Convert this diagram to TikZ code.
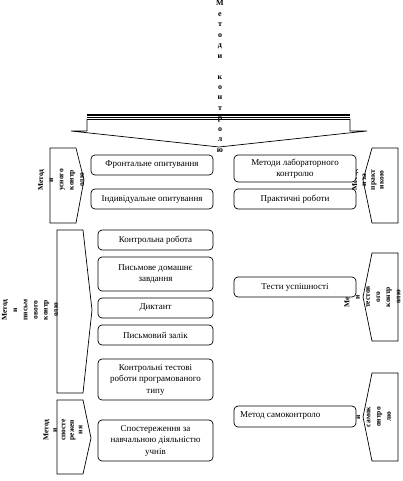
\documentclass[tikz,border=0pt]{standalone}
\usepackage{fontspec}
\setmainfont{Liberation Serif}
\begin{document}
\begin{tikzpicture}[x=1pt,y=-1pt,
  box/.style={draw, rounded corners=4pt, fill=white, line width=0.7pt, align=center,
    font=\fontsize{9}{11.5}\selectfont, inner sep=1pt},
  chev/.style={draw, line width=0.7pt, fill=white},
  vtext/.style={rotate=90, align=center, font=\bfseries\fontsize{7.5}{10.2}\selectfont, inner sep=0pt},
  letter/.style={anchor=base, inner sep=0pt, font=\bfseries\fontsize{8}{8}\selectfont}]
\useasboundingbox (0,0) rectangle (402,481);

% top arrow
\draw[chev] (87,119.5) -- (350,119.5) -- (350,131) -- (367,131) -- (219,147) -- (71,131) -- (87,131) -- cycle;
\draw[line width=2pt] (87,115) -- (350,115);
\draw[line width=0.8pt] (87,117.6) -- (350,117.6);
\foreach \c [count=\i from 0] in {М,е,т,о,д,и,{},к,о,н,т,р,о,л,ю}
  \node[letter] (t\i) at (220,6+10.43*\i) {\c};

% left chevrons
\draw[chev] (50,148) -- (76,148) -- (84,180) -- (76,223) -- (50,223) -- cycle;
\draw[chev] (57,230) -- (83,230) -- (92,310) -- (83,393) -- (57,393) -- cycle;
\draw[chev] (57,400) -- (83,400) -- (91,438) -- (83,474) -- (57,474) -- cycle;
% right chevrons
\draw[chev] (372,148) -- (398,148) -- (398,223) -- (372,223) -- (363,180) -- cycle;
\draw[chev] (372,253) -- (398,253) -- (398,341) -- (372,341) -- (363,297) -- cycle;
\draw[chev] (372,373) -- (398,373) -- (398,461) -- (372,461) -- (363,417) -- cycle;

% chevron texts
\node[vtext] (c1) at (61,180) {Метод\\и\\усного\\контр\\олю};
\node[vtext] (c2) at (30,310) {Метод\\и\\письм\\ового\\контр\\олю};
\node[vtext, font=\bfseries\fontsize{7.5}{8.5}\selectfont] (c3) at (63,430) {Метод\\и\\спосте\\режен\\ня};
\node[vtext, font=\bfseries\fontsize{7.5}{8.8}\selectfont] (c4) at (368,180) {Метод\\и за\\практ\\икою};
\node[vtext] (c5) at (372.5,297) {Метод\\и\\тестов\\ого\\контр\\олю};
\node[vtext] (c6) at (368,417) {Метод\\и\\самок\\онтро\\лю};

% left boxes
\node[box, minimum width=122pt, minimum height=20pt] (b1) at (152,165) {Фронтальне опитування};
\node[box, minimum width=122pt, minimum height=20pt] (b2) at (152,199) {Індивідуальне опитування};
\node[box, minimum width=115pt, minimum height=20pt] (b3) at (155.5,240) {Контрольна робота};
\node[box, minimum width=115pt, minimum height=34pt] (b4) at (155.5,274) {Письмове домашнє\\завдання};
\node[box, minimum width=115pt, minimum height=20pt] (b5) at (155.5,308) {Диктант};
\node[box, minimum width=115pt, minimum height=20pt] (b6) at (155.5,335) {Письмовий залік};
\node[box, minimum width=115pt, minimum height=41pt] (b7) at (155.5,379.5) {Контрольні тестові\\роботи програмованого\\типу};
\node[box, minimum width=115pt, minimum height=41pt] (b8) at (155.5,440.5) {Спостереження за\\навчальною діяльністю\\учнів};
% right boxes
\node[box, minimum width=122pt, minimum height=27pt] (b9) at (295,168.5) {Методи лабораторного\\контролю};
\node[box, minimum width=122pt, minimum height=20pt] (b10) at (295,199) {Практичні роботи};
\node[box, minimum width=122pt, minimum height=20pt] (b11) at (295,287) {Тести успішності};
\node[box, minimum width=122pt, minimum height=21pt] (b12) at (295,416.5) {};
\node[anchor=west, inner sep=0pt, font=\fontsize{9}{11.5}\selectfont] (b12t) at (240,416) {Метод самоконтроло};
\end{tikzpicture}
\end{document}
